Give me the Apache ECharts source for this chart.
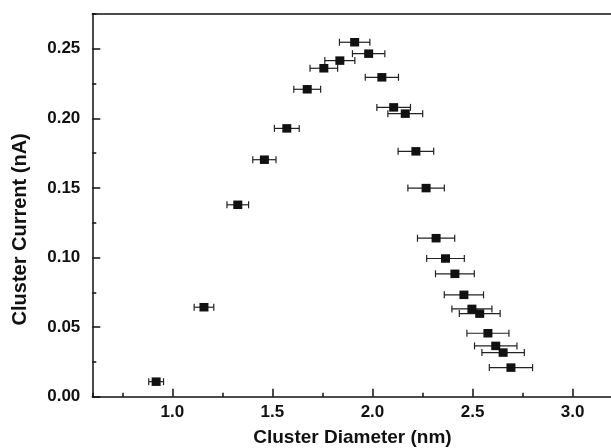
<!DOCTYPE html>
<html>
<head>
<meta charset="utf-8">
<script src="https://cdn.jsdelivr.net/npm/echarts@6/dist/echarts.min.js"></script>
<style>
html,body{margin:0;padding:0;background:#fff;}
#chart{width:611px;height:448px;}
</style>
</head>
<body>
<div id="chart"></div>
<script>
// Cluster diameter (nm)
var diameter = [0.919, 1.158, 1.327, 1.460, 1.572, 1.674, 1.757, 1.837, 1.911, 1.981,
                2.047, 2.106, 2.164, 2.217, 2.268, 2.318, 2.365, 2.412, 2.457, 2.497,
                2.536, 2.577, 2.616, 2.653, 2.692];
// Cluster current (nA)
var current = [0.0108, 0.0643, 0.1379, 0.1703, 0.1928, 0.2209, 0.2360, 0.2415, 0.2547, 0.2465,
               0.2295, 0.2079, 0.2034, 0.1763, 0.1499, 0.1139, 0.0993, 0.0883, 0.0732, 0.0631,
               0.0597, 0.0456, 0.0365, 0.0317, 0.0209];
// Horizontal error (nm, half width)
var diameterErr = [0.037, 0.049, 0.054, 0.058, 0.062, 0.067, 0.069, 0.075, 0.076, 0.081,
                   0.083, 0.084, 0.087, 0.089, 0.091, 0.093, 0.094, 0.097, 0.098, 0.100,
                   0.102, 0.105, 0.106, 0.106, 0.108];

var xTitle = 'Cluster Diameter (nm)';
var yTitle = 'Cluster Current (nA)';

var points = diameter.map(function (d, i) { return [d, current[i]]; });
var bars = diameter.map(function (d, i) { return [d, current[i], diameterErr[i]]; });

var FONT = '"Liberation Sans", Arial, Helvetica, sans-serif';
var INK = '#111';

var chart = echarts.init(document.getElementById('chart'), null, {renderer: 'canvas'});
chart.setOption({
  animation: false,
  backgroundColor: '#fff',
  grid: {
    left: 92.3, top: 14, width: 520.3, height: 382.7, show: false,
    containLabel: false, outerBoundsMode: 'none'
  },
  xAxis: [{
    type: 'value', min: 0.6, max: 3.2, minInterval: 0.5, maxInterval: 0.5,
    axisLine: {show: true, onZero: false, lineStyle: {color: INK, width: 1.5}},
    axisTick: {show: true, inside: true, length: 8, lineStyle: {color: INK, width: 1.5}},
    axisLabel: {
      showMinLabel: false, showMaxLabel: false, margin: 7,
      color: INK, fontFamily: FONT, fontWeight: 'bold', fontSize: 17,
      formatter: function (v) { return v.toFixed(1); }
    },
    splitLine: {show: false},
    name: xTitle, nameLocation: 'middle', nameGap: 32,
    nameTextStyle: {color: INK, fontFamily: FONT, fontWeight: 'bold', fontSize: 19}
  }, {
    type: 'value', min: 0.6, max: 3.2, minInterval: 0.25, maxInterval: 0.25, position: 'bottom',
    axisLine: {show: false},
    axisTick: {show: true, inside: true, length: 4, lineStyle: {color: INK, width: 1.5}},
    axisLabel: {show: false},
    splitLine: {show: false}
  }, {
    type: 'value', min: 0.6, max: 3.2, position: 'top',
    axisLine: {show: true, onZero: false, lineStyle: {color: INK, width: 1.5}},
    axisTick: {show: false},
    axisLabel: {show: false},
    splitLine: {show: false}
  }],
  yAxis: [{
    type: 'value', min: 0, max: 0.275, interval: 0.05,
    axisLine: {show: true, onZero: false, lineStyle: {color: INK, width: 1.5}},
    axisTick: {show: true, inside: true, length: 8, lineStyle: {color: INK, width: 1.5}},
    axisLabel: {
      showMaxLabel: false, margin: 12,
      color: INK, fontFamily: FONT, fontWeight: 'bold', fontSize: 17,
      formatter: function (v) { return v.toFixed(2); }
    },
    splitLine: {show: false},
    name: yTitle, nameLocation: 'middle', nameGap: 62, nameRotate: 90,
    nameTextStyle: {color: INK, fontFamily: FONT, fontWeight: 'bold', fontSize: 20, padding: [0, 48, 0, 0]}
  }, {
    type: 'value', min: 0, max: 0.275, interval: 0.025, position: 'left',
    axisLine: {show: false},
    axisTick: {show: true, inside: true, length: 4, lineStyle: {color: INK, width: 1.5}},
    axisLabel: {show: false},
    splitLine: {show: false}
  }],
  series: [{
    type: 'custom',
    xAxisIndex: 0, yAxisIndex: 0,
    data: bars,
    z: 2,
    renderItem: function (params, api) {
      var x = api.value(0), y = api.value(1), e = api.value(2);
      var p1 = api.coord([x - e, y]);
      var p2 = api.coord([x + e, y]);
      var cap = 3.5;
      var style = {stroke: '#222', lineWidth: 1.2, fill: null};
      return {
        type: 'group',
        children: [
          {type: 'line', shape: {x1: p1[0], y1: p1[1], x2: p2[0], y2: p2[1]}, style: style},
          {type: 'line', shape: {x1: p1[0], y1: p1[1] - cap, x2: p1[0], y2: p1[1] + cap}, style: style},
          {type: 'line', shape: {x1: p2[0], y1: p2[1] - cap, x2: p2[0], y2: p2[1] + cap}, style: style}
        ]
      };
    }
  }, {
    type: 'scatter',
    xAxisIndex: 0, yAxisIndex: 0,
    data: points,
    symbol: 'rect',
    symbolSize: [9, 8.5],
    itemStyle: {color: INK, opacity: 1},
    z: 3
  }]
});
</script>
</body>
</html>
